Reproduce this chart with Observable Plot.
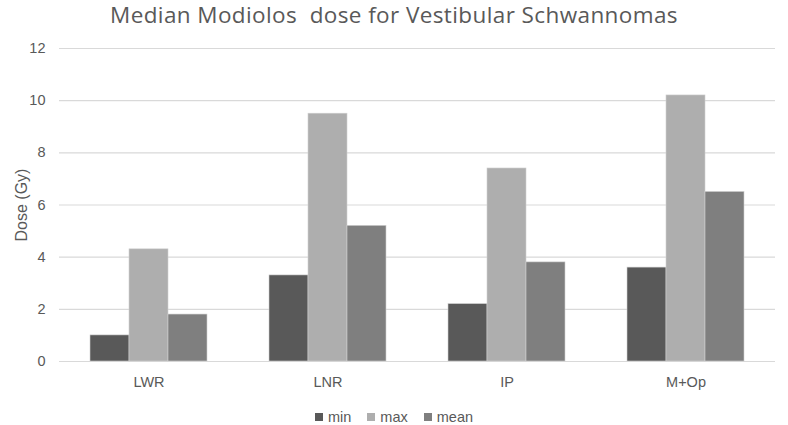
<!DOCTYPE html>
<html>
<head>
<meta charset="utf-8">
<script src="https://cdn.jsdelivr.net/npm/d3@7"></script>
<script src="https://cdn.jsdelivr.net/npm/@observablehq/plot@0.6"></script>
<style>
  body { margin: 0; background: #fff; font-family: "Liberation Sans", Arial, sans-serif; }
  #wrap { width: 788px; height: 425px; position: relative; }
  #title { position: absolute; top: 0; left: 0; width: 788px; text-align: center; font-family: "Open Sans", sans-serif; font-size: 22.5px; letter-spacing: 0.4px; color: #595959; line-height: 30px; }
  #chart { position: absolute; top: 30px; left: 0; }
  #legend { position: absolute; top: 409px; left: 0; width: 788px; display: flex; justify-content: center; gap: 16px; font-size: 14.5px; color: #595959; }
  #legend span.item { display: flex; align-items: center; gap: 5px; }
  #legend i { display: inline-block; width: 8px; height: 8px; }
</style>
</head>
<body>
<div id="wrap">
  <div id="title">Median Modiolos&nbsp; dose for Vestibular Schwannomas</div>
  <div id="chart"></div>
  <div id="legend"></div>
</div>
<script>
const categories = ["LWR", "LNR", "IP", "M+Op"];
const seriesNames = ["min", "max", "mean"];
const minValues = [1.0, 3.3, 2.2, 3.6];
const maxValues = [4.3, 9.5, 7.4, 10.2];
const meanValues = [1.8, 5.2, 3.8, 6.5];
const yTicks = [0, 2, 4, 6, 8, 10, 12];
const colors = ["#595959", "#aeaeae", "#7f7f7f"];

const seriesValues = [minValues, maxValues, meanValues];
const data = [];
categories.forEach((c, i) => {
  seriesNames.forEach((s, j) => data.push({category: c, series: s, value: seriesValues[j][i]}));
});

const chart = Plot.plot({
  width: 788,
  height: 370,
  marginTop: 18,
  marginBottom: 39,
  marginLeft: 58,
  marginRight: 13,
  style: {fontFamily: "'Liberation Sans', Arial, sans-serif", fontSize: "15px", color: "#595959"},
  fx: {domain: categories, paddingInner: 0, paddingOuter: 0, label: null, axis: null},
  x: {domain: seriesNames, paddingInner: 0, paddingOuter: 0.74, axis: null},
  y: {domain: [0, 12], ticks: yTicks, label: null, axis: null},
  color: {domain: seriesNames, range: colors},
  marks: [
    Plot.gridY(yTicks, {stroke: "#d9d9d9", strokeOpacity: 1, strokeWidth: 1.2}),
    Plot.barY(data, {fx: "category", x: "series", y: "value", fill: "series", stroke: "#cfcfcf", strokeWidth: 0.6, inset: 0}),
    Plot.axisFx({domain: categories, anchor: "bottom", tickSize: 0, tickPadding: 15, label: null, fontSize: 14.5}),
    Plot.axisY({ticks: yTicks, tickSize: 0, tickPadding: 14, label: null, fontSize: 14.5, facetAnchor: "left"}),
    Plot.axisY({ticks: [], tickSize: 0, label: "Dose (Gy)", labelAnchor: "center", labelOffset: 44, labelArrow: "none", fontSize: 16, facetAnchor: "left"})
  ]
});
chart.querySelectorAll("text").forEach(el => { el.style.fill = "#595959"; });
document.getElementById("chart").appendChild(chart);

const legend = document.getElementById("legend");
seriesNames.forEach((s, j) => {
  const item = document.createElement("span");
  item.className = "item";
  const sw = document.createElement("i");
  sw.style.background = colors[j];
  item.appendChild(sw);
  item.appendChild(document.createTextNode(s));
  legend.appendChild(item);
});
</script>
</body>
</html>
